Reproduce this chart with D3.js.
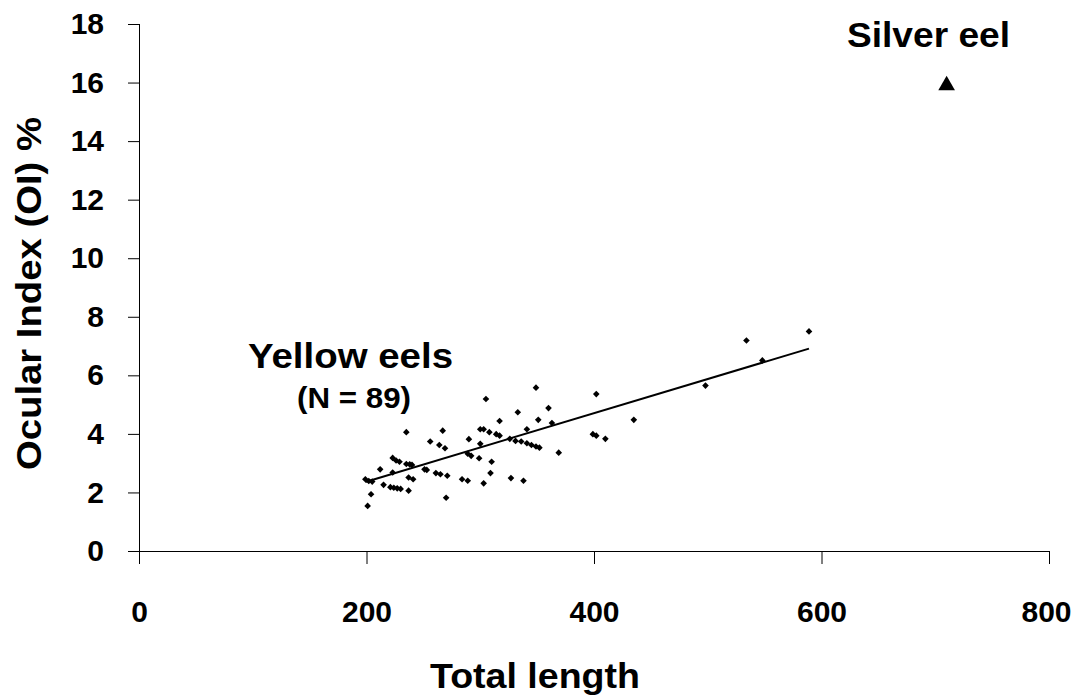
<!DOCTYPE html>
<html lang="en">
<head>
  <meta charset="utf-8">
  <title>Ocular Index vs Total length</title>
  <style>
    body { margin: 0; background: #fff; }
    text { font-family: "Liberation Sans", Arial, sans-serif; font-weight: bold; fill: #000; }
  </style>
</head>
<body>
  <script src="https://cdnjs.cloudflare.com/ajax/libs/d3/7.8.5/d3.min.js"></script>
  <script type="text/javascript">
  // yellow eels: total length (mm) and ocular index (%)
  const yellowLength = [235, 267, 256, 264, 269, 223, 226, 229, 235, 238, 240, 212, 223, 251, 253, 261, 265, 271,
    199, 202, 205, 237, 241, 215, 221, 224, 227, 230, 237, 204, 270, 201, 305, 333, 317, 300, 303, 308, 314, 317,
    341, 290, 300, 326, 331, 336, 341, 345, 349, 352, 289, 292, 299, 310, 309, 284, 289, 327, 338, 303, 349, 402,
    360, 351, 363, 399, 402, 410, 369, 435, 498, 534, 548, 589];
  const yellowOI = [4.06, 4.11, 3.74, 3.62, 3.51, 3.18, 3.09, 3.05, 2.97, 2.96, 2.94, 2.79, 2.68, 2.79, 2.77, 2.66, 2.62, 2.57,
    2.45, 2.39, 2.37, 2.51, 2.45, 2.26, 2.18, 2.16, 2.14, 2.12, 2.06, 1.94, 1.82, 1.54, 5.19, 4.74, 4.44, 4.16, 4.16, 4.06, 3.99, 3.94,
    4.16, 3.82, 3.66, 3.83, 3.76, 3.74, 3.68, 3.62, 3.57, 3.53, 3.32, 3.25, 3.17, 3.05, 2.66, 2.45, 2.40, 2.49, 2.40, 2.31, 5.58, 5.36,
    4.88, 4.48, 4.37, 3.99, 3.94, 3.83, 3.36, 4.48, 5.65, 7.19, 6.51, 7.50];

  // silver eel
  const silverLength = [710];
  const silverOI = [15.9];

  // linear trend of the yellow eels
  const trendSlope = 0.01168;
  const trendIntercept = 0.034;

  const xTicks = [0, 200, 400, 600, 800];
  const yTicks = [0, 2, 4, 6, 8, 10, 12, 14, 16, 18];

  const width = 1073;
  const height = 695;

  const svg = d3.select("body")
  .append("svg")
  .attr("width", width)
  .attr("height", height);

  const xScale = d3.scaleLinear().domain([0, 800]).range([139, 1049]);
  const yScale = d3.scaleLinear().domain([0, 18]).range([551, 24]);

  // axes
  const xAxis = d3.axisBottom(xScale).tickValues(xTicks).tickSize(13).tickPadding(37);
  const yAxis = d3.axisLeft(yScale).tickValues(yTicks).tickSize(11).tickPadding(24);

  const gx = svg.append("g")
  .attr("transform", `translate(0, ${yScale(0)})`)
  .call(xAxis);
  gx.select(".domain").attr("d", `M${xScale(0)},0.5H${xScale(800)}`);

  const gy = svg.append("g")
  .attr("transform", `translate(${xScale(0)}, 0)`)
  .call(yAxis);
  gy.select(".domain").attr("d", `M0.5,${yScale(18)}V${yScale(0)}`);

  svg.selectAll(".domain, .tick line").attr("stroke", "#000").attr("stroke-width", 1);
  svg.selectAll(".tick text")
  .attr("font-size", 30)
  .attr("font-family", "Liberation Sans, Arial, sans-serif")
  .attr("font-weight", "bold")
  .attr("fill", "#000");
  // keep the last x label inside the page
  gx.selectAll(".tick text").filter((d) => d === 800).attr("dx", -3);

  // trend line
  const xExtent = d3.extent(yellowLength);
  svg.append("line")
  .attr("x1", xScale(xExtent[0]))
  .attr("y1", yScale(trendIntercept + trendSlope * xExtent[0]))
  .attr("x2", xScale(xExtent[1]))
  .attr("y2", yScale(trendIntercept + trendSlope * xExtent[1]))
  .attr("stroke", "#000")
  .attr("stroke-width", 2);

  // yellow eel points
  const yellow = yellowLength.map((d, i) => ({ x: d, y: yellowOI[i] }));
  svg.append("g")
  .selectAll("path")
  .data(yellow)
  .enter()
  .append("path")
  .attr("d", d3.symbol().type(d3.symbolDiamond2).size(28))
  .attr("transform", (d) => `translate(${xScale(d.x)}, ${yScale(d.y)})`)
  .attr("fill", "#000");

  // silver eel point
  const silver = silverLength.map((d, i) => ({ x: d, y: silverOI[i] }));
  svg.append("g")
  .selectAll("path")
  .data(silver)
  .enter()
  .append("path")
  .attr("d", d3.symbol().type(d3.symbolTriangle).size(120))
  .attr("transform", (d) => `translate(${xScale(d.x)}, ${yScale(d.y)})`)
  .attr("fill", "#000");

  // labels
  const label = (x, y, size, len, txt, transform) => {
    const t = svg.append("text")
    .attr("x", x).attr("y", y)
    .attr("font-size", size)
    .attr("textLength", len)
    .attr("lengthAdjust", "spacingAndGlyphs")
    .text(txt);
    if (transform) t.attr("transform", transform);
    return t;
  };

  label(847, 47, 35, 163, "Silver eel");
  label(248, 368, 35, 205, "Yellow eels");
  label(297, 408, 29, 114, "(N = 89)");
  label(430, 688, 35, 210, "Total length");
  label(-470, 41, 35, 353, "Ocular Index (OI) %", "rotate(-90)");
  </script>
</body>
</html>
